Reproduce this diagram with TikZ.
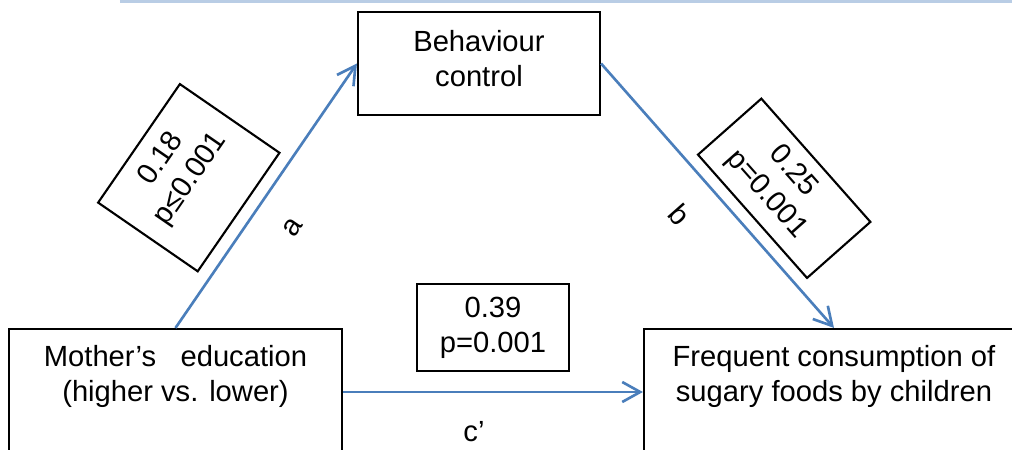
\documentclass[tikz,border=0pt]{standalone}
\usepackage{fontspec}
\setmainfont{Liberation Sans}
\usetikzlibrary{arrows.meta,positioning}
\definecolor{pathblue}{RGB}{74,126,187}
\definecolor{ruleblue}{RGB}{185,205,229}

\begin{document}
\begin{tikzpicture}[font=\fontsize{8.3}{10}\selectfont,
    box/.style={draw=black,line width=0.6pt,inner sep=0pt,align=center},
    txt/.style={align=center,inner sep=0pt},
    link/.style={draw=pathblue,line width=0.75pt,-{Straight Barb[length=1.8mm,width=2mm]}}]
      \clip (0,0) rectangle (10.12,4.5);
      \draw[ruleblue,line width=0.85pt] (1.20,4.485) -- (10.12,4.485);

      % the three variables
      \node[box,minimum width=3.33cm,minimum height=1.26cm] (mother) at (1.755,0.58) {};
      \node[box,minimum width=2.42cm,minimum height=1.03cm] (behav) at (4.79,3.865) {};
      \node[box,minimum width=3.80cm,minimum height=1.26cm] (freq) at (8.34,0.58) {};
      \node[txt,below=1.7mm of mother.north] (motherlbl) {Mother’s~~~education\\(higher vs. lower)};
      \node[txt,below=1.9mm of behav.north] (behavlbl) {Behaviour\\control};
      \node[txt,below=1.7mm of freq.north] (freqlbl) {Frequent consumption of\\sugary foods by children};

      % paths
      \draw[link] (mother.north) -- (behav.west);
      \draw[link] (behav.east) -- (freq.north);
      \draw[link] (mother.east) -- (freq.west);

      % coefficients
      \node[box,rotate=55.4,minimum width=1.44cm,minimum height=1.21cm] (abox) at (1.888,2.723) {};
      \node[txt,rotate=55.4] (aval) at ([shift={(145.4:0.15)}]abox.center) {0.18\\p≤0.001};
      \node[box,rotate=-48.5,minimum width=1.646cm,minimum height=0.846cm] (bbox) at (7.842,2.617) {};
      \node[txt,rotate=-48.5] (bval) at ([shift={(131.5:0.07)}]bbox.center) {0.25\\p=0.001};
      \node[box,minimum width=1.52cm,minimum height=0.87cm] (cbox) at (4.93,1.225) {0.39\\p=0.001};

      \node[rotate=55.4] (alab) at (2.93,2.23) {a};
      \node[rotate=-48.5] (blab) at (6.80,2.35) {b};
      \node (clab) at (4.74,0.18) {c’};
\end{tikzpicture}
\end{document}
